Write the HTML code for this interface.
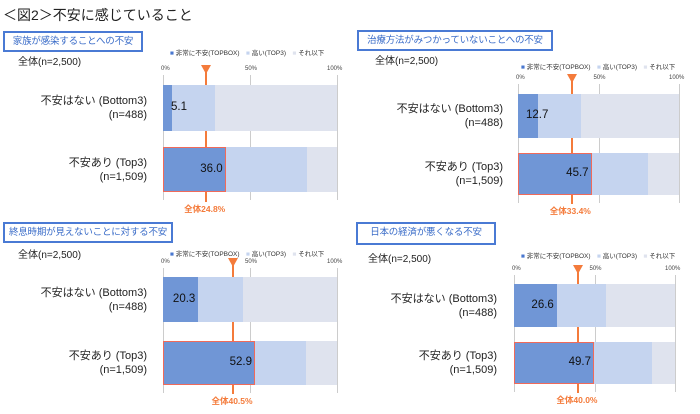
<!DOCTYPE html>
<html><head><meta charset="utf-8"><style>
body{margin:0;width:700px;height:414px;background:#fff;position:relative;overflow:hidden;font-family:"Liberation Sans","Noto Sans CJK JP",sans-serif;color:#222}
div{position:absolute}
.tb{border:2px solid #4a7ad4;color:#3a6cc8;font-size:9.5px;letter-spacing:-0.2px;text-align:center;box-sizing:border-box;line-height:17px;white-space:nowrap;overflow:hidden}
.sm{font-size:10px}
.lab{font-size:11px;text-align:right;line-height:14px;width:150px}
.ax{font-size:6px;color:#444}
.leg{font-size:6.5px;color:#333;white-space:nowrap}
.tot{font-size:8.5px;color:#f47b3b;font-weight:bold;white-space:nowrap}
.val{font-size:11.5px;color:#111}
</style></head><body>
<div style="left:3px;top:5px;font-size:14px;">＜図2＞不安に感じていること</div>
<div id="c"></div>
<script>
var P=[
{t:"家族が感染することへの不安",bx:[3,31,140,21],n:[18,53],lg:[170,47],x0:163,x1:337,ay:66,r1:[85,131],r2:[147,192],lr:147,m:24.8,ty:203,a:[5.1,30,36.0,83]},
{t:"治療方法がみつかっていないことへの不安",bx:[357,30,196,21],n:[375,52],lg:[521,61],x0:518,x1:679,ay:75,r1:[94,138],r2:[153,195],lr:503,m:33.4,ty:205,a:[12.7,39,45.7,81]},
{t:"終息時期が見えないことに対する不安",bx:[3,222,170,21],n:[18,246],lg:[170,248],x0:163,x1:337,ay:259,r1:[277,322],r2:[341,385],lr:147,m:40.5,ty:395,a:[20.3,46,52.9,82]},
{t:"日本の経済が悪くなる不安",bx:[356,222,140,23],n:[368,250],lg:[521,250],x0:514,x1:675,ay:266,r1:[284,327],r2:[342,384],lr:497,m:40.0,ty:394,a:[26.6,57,49.7,86]}];
var h="";
P.forEach(function(p){
var w=p.x1-p.x0,X=function(v){return p.x0+w*v/100};
h+='<div class="tb" style="left:'+p.bx[0]+'px;top:'+p.bx[1]+'px;width:'+p.bx[2]+'px;height:'+p.bx[3]+'px">'+p.t+'</div>';
h+='<div class="sm" style="left:'+p.n[0]+'px;top:'+p.n[1]+'px">全体(n=2,500)</div>';
h+='<div class="leg" style="left:'+p.lg[0]+'px;top:'+p.lg[1]+'px"><span style="color:#4a78d0">■</span> 非常に不安(TOPBOX)　<span style="color:#c5d4ef">■</span> 高い(TOP3)　<span style="color:#dfe3ee">■</span> それ以下</div>';
[[0,"0%"],[50,"50%"],[100,"100%"]].forEach(function(q,i){
h+='<div class="ax" style="left:'+(X(q[0])-(i==0?2:i==1?5:10))+'px;top:'+p.ay+'px">'+q[1]+'</div>';
h+='<div style="left:'+X(q[0])+'px;top:'+(p.ay+9)+'px;width:1px;height:'+(p.r2[1]-p.ay-1)+'px;background:#ccc"></div>';});
var mx=X(p.m);
h+='<div style="left:'+(mx-1)+'px;top:'+(p.ay+4)+'px;width:2px;height:'+(p.ty-p.ay-5)+'px;background:#f47b3b"></div>';
h+='<div style="left:'+(mx-5)+'px;top:'+(p.ay-1)+'px;width:0;height:0;border-left:5px solid transparent;border-right:5px solid transparent;border-top:9px solid #f47b3b"></div>';
var rows=[[p.r1,p.a[0],p.a[1],0],[p.r2,p.a[2],p.a[3],1]];
rows.forEach(function(r){var y=r[0][0],hh=r[0][1]-r[0][0];
h+='<div style="left:'+p.x0+'px;top:'+y+'px;width:'+w+'px;height:'+hh+'px;background:#dfe3ee"></div>';
h+='<div style="left:'+p.x0+'px;top:'+y+'px;width:'+(w*r[2]/100)+'px;height:'+hh+'px;background:#c5d4ef"></div>';
h+='<div style="left:'+p.x0+'px;top:'+y+'px;width:'+(w*r[1]/100)+'px;height:'+hh+'px;background:#7096d6;box-sizing:border-box;'+(r[3]?'border:1.5px solid #f06a5a':'')+'"></div>';
var vl=r[1]<15?p.x0+8:X(r[1])-30;
h+='<div class="val" style="left:'+vl+'px;top:'+(y+hh/2-7)+'px;'+(r[1]<15?'':'width:27px;text-align:right')+'">'+r[1].toFixed(1)+'</div>';
h+='<div class="lab" style="left:'+(p.lr-150)+'px;top:'+(y+hh/2-14)+'px">'+(r[3]?'不安あり (Top3)<br>(n=1,509)':'不安はない (Bottom3)<br>(n=488)')+'</div>';});
h+='<div class="tot" style="left:'+(mx-22)+'px;top:'+p.ty+'px">全体'+p.m.toFixed(1)+'%</div>';
});
document.getElementById("c").outerHTML=h;
</script>
</body></html>
